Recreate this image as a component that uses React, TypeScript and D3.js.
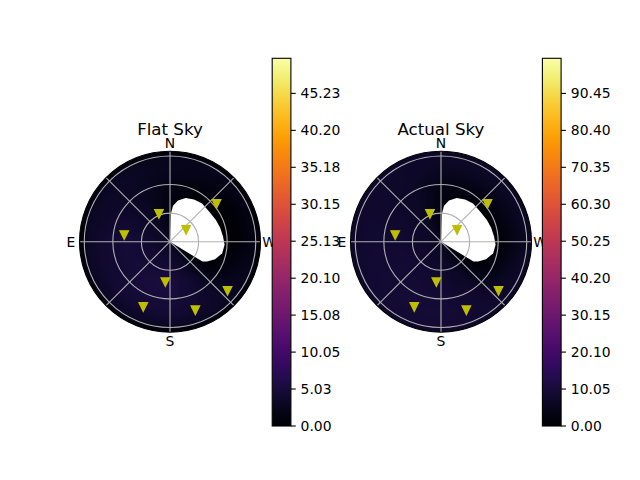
import React, { useMemo } from 'react';
import * as d3 from 'd3';

const W = 640;
const H = 480;

// Sources: compass azimuth (deg, N=0, E=90) and zenith angle (deg)
const markerAz = [21.7, 81.7, 306.1, 309.1, 173.4, 229.5, 157.7, 200.3];
const markerZen = [31.4, 48.6, 20.9, 62.9, 42.7, 79.4, 74.0, 76.7];

// Sky brightness grid: rows = azimuth, columns = zenith
const gridAz = [0, 30, 60, 90, 120, 150, 180, 210, 240, 270, 300, 330];
const gridZen = [0, 15, 30, 45, 60, 75, 88, 95];
const flatValues = [
  [3.0, 2.0, 1.5, 1.5, 2.0, 2.5, 2.5, 0.3],
  [3.0, 3.0, 3.0, 3.0, 3.0, 3.2, 3.0, 0.3],
  [3.0, 3.5, 3.8, 4.0, 3.8, 3.5, 3.0, 0.3],
  [3.0, 3.8, 4.5, 5.0, 4.5, 4.0, 3.0, 0.3],
  [3.0, 4.0, 4.5, 4.8, 4.5, 4.2, 3.2, 0.3],
  [3.0, 4.0, 4.8, 5.2, 5.0, 4.5, 3.3, 0.3],
  [3.0, 3.8, 4.8, 5.5, 5.0, 4.5, 3.3, 0.3],
  [3.0, 3.0, 3.5, 4.0, 4.0, 4.0, 3.2, 0.3],
  [3.0, 1.0, 0.5, 0.5, 1.5, 2.5, 2.8, 0.3],
  [3.0, 0.2, 0.2, 0.2, 0.3, 1.0, 2.0, 0.3],
  [3.0, 0.2, 0.2, 0.3, 0.3, 1.0, 2.0, 0.3],
  [3.0, 0.5, 0.5, 0.5, 1.0, 2.0, 2.5, 0.3],
];
const actualValues = [
  [5, 3, 3, 3, 4, 6, 7, 7],
  [6, 6, 6, 6.5, 7, 7.5, 7.5, 7],
  [6, 7, 7.5, 8, 8, 8, 8, 7],
  [6, 7.5, 8, 8.5, 8.5, 8.5, 8, 7],
  [6, 7.5, 8.5, 9, 9, 9, 8.5, 7],
  [6, 7.5, 8.5, 9, 9.5, 9.5, 9, 7],
  [6, 7, 8, 8.5, 9, 9.5, 9, 7],
  [6, 5, 6, 7, 8, 8.5, 8.5, 7],
  [6, 1.5, 1, 1.5, 3.5, 6, 7.5, 7],
  [6, 0.5, 0.5, 0.5, 1.5, 4, 6.5, 6.5],
  [6, 0.5, 0.5, 0.5, 2, 5, 6.5, 6.5],
  [5, 1, 1, 1.5, 3, 5.5, 7, 7],
];

// Masked (undefined) region outline
const maskAz = [358, 358, 355.2, 349, 340.2, 330.3, 319.9, 305.9, 295.4, 285.6, 275.4, 266.8, 257.5, 248.7, 242, 238.5, 238.5];
const maskZen = [0, 29.5, 38.0, 44.0, 48.7, 50.9, 52.3, 52.0, 53.3, 54.7, 56.0, 57.4, 56.1, 50.8, 44, 40, 0];

const flatTicks = [0, 5.03, 10.05, 15.08, 20.1, 25.13, 30.15, 35.18, 40.2, 45.23];
const actualTicks = [0, 10.05, 20.1, 30.15, 40.2, 50.25, 60.3, 70.35, 80.4, 90.45];
const flatMax = 50;
const actualMax = 100;

const dirLabels = ['N', 'E', 'S', 'W'];
const dirAz = [0, 90, 180, 270];
const ringZen = [30, 60, 90];
const spokeAz = [0, 45, 90, 135, 180, 225, 270, 315];
const zenMax = 95;

const FONT = 'DejaVu Sans, sans-serif';
const R = 90.5;
const CY = 241.7;

function sample(values: number[][], az: number, z: number) {
  const a = ((az % 360) + 360) % 360;
  const step = 360 / gridAz.length;
  const i = Math.floor(a / step) % gridAz.length;
  const i2 = (i + 1) % gridAz.length;
  const fa = (a - gridAz[i]) / step;
  let j = 0;
  while (j < gridZen.length - 2 && z > gridZen[j + 1]) j++;
  const fz = Math.max(0, Math.min(1, (z - gridZen[j]) / (gridZen[j + 1] - gridZen[j])));
  const v00 = values[i][j], v01 = values[i][j + 1], v10 = values[i2][j], v11 = values[i2][j + 1];
  const v0 = v00 + (v01 - v00) * fz;
  const v1 = v10 + (v11 - v10) * fz;
  return v0 + (v1 - v0) * fa;
}

function useHeatImage(values: number[][], vmax: number) {
  return useMemo(() => {
    const scale = 3;
    const size = Math.ceil(2 * R * scale);
    const canvas = document.createElement('canvas');
    canvas.width = size;
    canvas.height = size;
    const ctx = canvas.getContext('2d');
    if (!ctx) return '';
    const img = ctx.createImageData(size, size);
    const color = d3.scaleSequential(d3.interpolateInferno).domain([0, vmax]);
    const rScale = d3.scaleLinear().domain([0, zenMax]).range([0, R]);
    for (let py = 0; py < size; py++) {
      for (let px = 0; px < size; px++) {
        const dx = (px + 0.5) / scale - R;
        const dy = (py + 0.5) / scale - R;
        const rr = Math.sqrt(dx * dx + dy * dy);
        if (rr > R + 1) continue;
        const z = rScale.invert(rr);
        const az = (Math.atan2(-dx, -dy) * 180) / Math.PI;
        const v = sample(values, az, Math.min(z, zenMax));
        const c = d3.rgb(color(v));
        const k = (py * size + px) * 4;
        img.data[k] = c.r;
        img.data[k + 1] = c.g;
        img.data[k + 2] = c.b;
        img.data[k + 3] = 255;
      }
    }
    ctx.putImageData(img, 0, 0);
    return canvas.toDataURL();
  }, [values, vmax]);
}

function PolarSky({ cx, title, values, vmax, id }: { cx: number; title: string; values: number[][]; vmax: number; id: string }) {
  const href = useHeatImage(values, vmax);
  const rScale = d3.scaleLinear().domain([0, zenMax]).range([0, R]);
  const toXY = (az: number, z: number): [number, number] => {
    const a = (az * Math.PI) / 180;
    const r = rScale(z);
    return [cx - r * Math.sin(a), CY - r * Math.cos(a)];
  };
  const maskPts = maskAz.map((a, i) => ({ a, z: maskZen[i] }));
  const maskPath = d3
    .lineRadial<{ a: number; z: number }>()
    .angle((d) => (-d.a * Math.PI) / 180)
    .radius((d) => rScale(d.z))
    .curve(d3.curveLinearClosed)(maskPts);
  const s = (6 * 100) / 72;
  const tri = `M${-s / 2},${-s / 2}L${s / 2},${-s / 2}L0,${s / 2}Z`;
  return (
    <g>
      <defs>
        <clipPath id={`clip-${id}`}>
          <circle cx={cx} cy={CY} r={R} />
        </clipPath>
      </defs>
      <g clipPath={`url(#clip-${id})`}>
        <image href={href} x={cx - R} y={CY - R} width={2 * R} height={2 * R} preserveAspectRatio="none" />
        <path d={maskPath || ''} transform={`translate(${cx},${CY})`} fill="#ffffff" />
        {ringZen.map((z) => (
          <circle key={z} cx={cx} cy={CY} r={rScale(z)} fill="none" stroke="#b0b0b0" strokeWidth={1.1} />
        ))}
        {spokeAz.map((a) => {
          const [x, y] = toXY(a, zenMax);
          return <line key={a} x1={cx} y1={CY} x2={x} y2={y} stroke="#b0b0b0" strokeWidth={1.1} />;
        })}
      </g>
      {markerAz.map((a, i) => {
        const [x, y] = toXY(a, markerZen[i]);
        return (
          <path key={i} d={tri} transform={`translate(${x},${y})`} fill="#bfbf00" stroke="#bfbf00" strokeWidth={1.39} strokeLinejoin="miter" />
        );
      })}
      <circle cx={cx} cy={CY} r={R} fill="none" stroke="#000" strokeWidth={1.1} />
      {dirLabels.map((l, i) => {
        const a = (dirAz[i] * Math.PI) / 180;
        const rr = R + 8.5;
        return (
          <text key={l} x={cx - rr * Math.sin(a)} y={CY - rr * Math.cos(a)} textAnchor="middle" dominantBaseline="central" fontFamily={FONT} fontSize={13.9} fill="#000">
            {l}
          </text>
        );
      })}
      <text x={cx} y={135} textAnchor="middle" fontFamily={FONT} fontSize={16.67} fill="#000">
        {title}
      </text>
    </g>
  );
}

function ColorBar({ x, ticks, vmax, id }: { x: number; ticks: number[]; vmax: number; id: string }) {
  const top = 58.3;
  const bottom = 426;
  const w = 18.7;
  const y = d3.scaleLinear().domain([0, vmax]).range([bottom, top]);
  const color = d3.scaleSequential(d3.interpolateInferno).domain([0, vmax]);
  const stops = d3.range(0, 1.0001, 1 / 32);
  return (
    <g>
      <defs>
        <linearGradient id={`grad-${id}`} x1="0" y1="1" x2="0" y2="0">
          {stops.map((t) => (
            <stop key={t} offset={t} stopColor={color(t * vmax)} />
          ))}
        </linearGradient>
      </defs>
      <rect x={x} y={top} width={w} height={bottom - top} fill={`url(#grad-${id})`} stroke="#000" strokeWidth={1.1} />
      {ticks.map((t) => (
        <g key={t}>
          <line x1={x + w} x2={x + w + 4.86} y1={y(t)} y2={y(t)} stroke="#000" strokeWidth={1.1} />
          <text x={x + w + 9.7} y={y(t)} dominantBaseline="central" fontFamily={FONT} fontSize={13.9} fill="#000">
            {t.toFixed(2)}
          </text>
        </g>
      ))}
    </g>
  );
}

export default function App() {
  return (
    <svg width={W} height={H} style={{ position: 'absolute', left: 0, top: 0, background: '#fff' }} xmlns="http://www.w3.org/2000/svg">
      <rect x={0} y={0} width={W} height={H} fill="#fff" />
      <PolarSky cx={170} title="Flat Sky" values={flatValues} vmax={flatMax} id="flat" />
      <ColorBar x={272.2} ticks={flatTicks} vmax={flatMax} id="flat" />
      <PolarSky cx={441} title="Actual Sky" values={actualValues} vmax={actualMax} id="actual" />
      <ColorBar x={542.4} ticks={actualTicks} vmax={actualMax} id="actual" />
    </svg>
  );
}
